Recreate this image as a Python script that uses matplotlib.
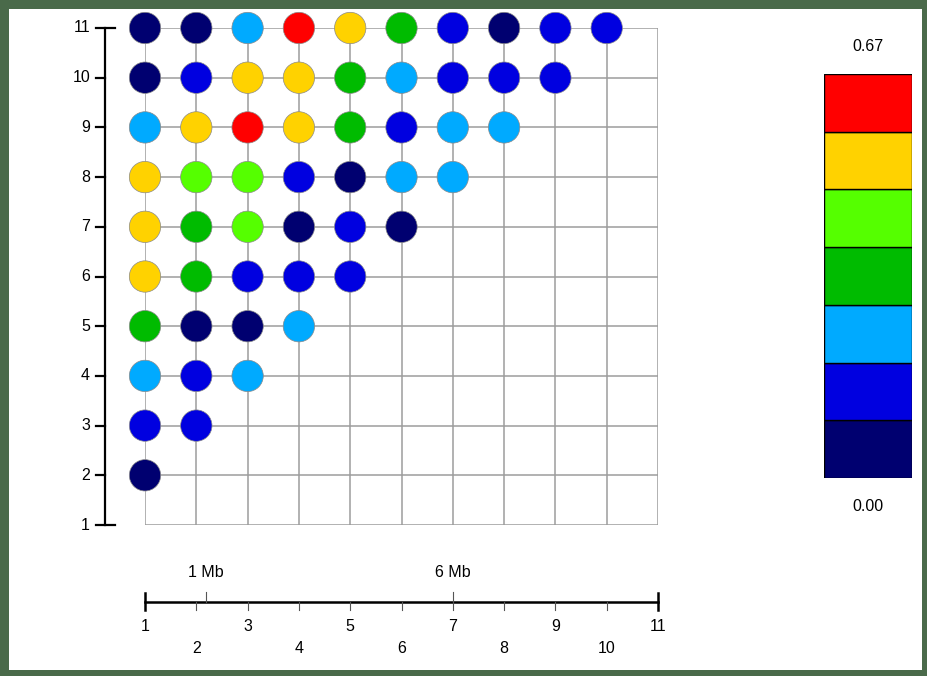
import matplotlib.pyplot as plt
from matplotlib.colors import ListedColormap
from matplotlib.patches import Rectangle

plt.rcParams['font.family'] = ['Liberation Sans', 'DejaVu Sans']

# LD colour classes (0 = lowest bin ... 6 = highest bin), one list per row
marker_idx = list(range(1, 12))
rows = {
    11: [0, 0, 2, 6, 5, 3, 1, 0, 1, 1],
    10: [0, 1, 5, 5, 3, 2, 1, 1, 1],
    9: [2, 5, 6, 5, 3, 1, 2, 2],
    8: [5, 4, 4, 1, 0, 2, 2],
    7: [5, 3, 4, 0, 1, 0],
    6: [5, 3, 1, 1, 1],
    5: [3, 0, 0, 2],
    4: [2, 1, 2],
    3: [1, 1],
    2: [0],
}
level_colors = ['#000070', '#0000e0', '#00aaff', '#00bb00', '#55ff00', '#ffd200', '#ff0000']
vmin, vmax = 0.00, 0.67
mb_labels = ['1 Mb', '6 Mb']
mb_pos = [2.18, 7.0]

cmap = ListedColormap(level_colors)
fs = 11.5

fig = plt.figure(figsize=(9.27, 6.76), dpi=100)
fig.patch.set_facecolor('#4a6a4a')
fig.patches.append(Rectangle((9 / 927, 6 / 676), 913 / 927, 661 / 676,
                             transform=fig.transFigure, facecolor='white',
                             edgecolor='none', zorder=-10))

ax = fig.add_axes([145 / 927, 151 / 676, 513 / 927, 497 / 676])
ax.set_xlim(1, 11)
ax.set_ylim(1, 11)
ax.axis('off')

# grid
ax.vlines(marker_idx, 1, 11, color='#9c9c9c', lw=1.1, zorder=1)
ax.hlines(marker_idx, 1, 11, color='#9c9c9c', lw=1.1, zorder=1)

xs, ys, cs = [], [], []
for y, vals in rows.items():
    for i, v in enumerate(vals):
        xs.append(i + 1)
        ys.append(y)
        cs.append(v)
ax.scatter(xs, ys, c=cs, cmap=cmap, vmin=-0.5, vmax=6.5, s=510,
           edgecolors='#8a8a8a', linewidths=0.5, zorder=3, clip_on=False)

# left axis
ax.plot([0.211, 0.211], [1, 11], color='black', lw=1.6, clip_on=False)
for m in marker_idx:
    right = 0.415 if m in (1, 11) else 0.211
    ax.plot([0.045, right], [m, m], color='black', lw=1.6, clip_on=False)
    ax.text(-0.07, m, str(m), ha='right', va='center', fontsize=fs)

# physical distance scale
sy = -0.55
ax.plot([1, 11], [sy, sy], color='black', lw=1.8, clip_on=False)
for m in (1, 11):
    ax.plot([m, m], [sy + 0.18, sy - 0.17], color='black', lw=1.8, clip_on=False)
for m in marker_idx[1:-1]:
    ax.plot([m, m], [sy, sy - 0.16], color='#555555', lw=0.8, clip_on=False)
for m in marker_idx:
    ty = -1.05 if m % 2 else -1.475
    ax.text(m, ty, str(m), ha='center', va='center', fontsize=fs)
for lab, p in zip(mb_labels, mb_pos):
    ax.plot([p, p], [sy, sy + 0.2], color='#555555', lw=0.8, clip_on=False)
    ax.text(p, 0.035, lab, ha='center', va='center', fontsize=fs)

# colour key
cax = fig.add_axes([824 / 927, 198 / 676, 88 / 927, 404 / 676])
n = len(level_colors)
cax.bar([0] * n, [1] * n, bottom=list(range(n)), width=1, color=level_colors,
        edgecolor='black', linewidth=1)
cax.set_xlim(-0.5, 0.5)
cax.set_ylim(0, n)
cax.axis('off')
cax.text(0, n + 0.48, f'{vmax:.2f}', ha='center', va='center', fontsize=fs)
cax.text(0, -0.5, f'{vmin:.2f}', ha='center', va='center', fontsize=fs)

plt.savefig('out.png', dpi=100, facecolor=fig.get_facecolor())
